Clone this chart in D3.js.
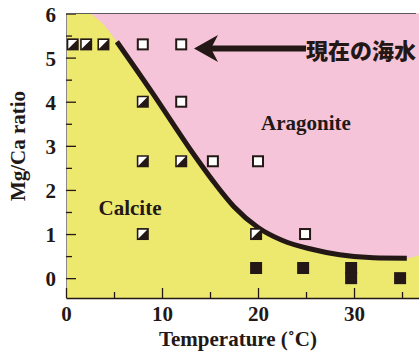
<!DOCTYPE html>
<html>
<head>
<meta charset="utf-8">
<script src="https://cdn.jsdelivr.net/npm/d3@7"></script>
<style>
  html, body { margin: 0; padding: 0; background: #ffffff; }
  svg { display: block; }
  .serif { font-family: "Liberation Serif", "Times New Roman", serif; font-weight: bold; fill: #231815; }
</style>
</head>
<body>
<svg id="chart" width="419" height="356"></svg>
<script>
// Phase stability of CaCO3 precipitates: Mg/Ca ratio of the solution vs. temperature

// Experimental runs, grouped by the polymorph that formed
const calciteAragoniteT = [0.7, 2.1, 3.9, 8, 8, 12, 8, 19.8];
const calciteAragoniteV = [5.3, 5.3, 5.3, 4, 2.65, 2.65, 1, 1];
const aragoniteT = [8, 12, 12, 15.3, 20, 24.9];
const aragoniteV = [5.3, 5.3, 4, 2.65, 2.65, 1];
const calciteT = [19.8, 24.7, 29.7, 29.7, 34.8];
const calciteV = [0.23, 0.23, 0.23, 0.0, 0.0];

// Calcite / aragonite boundary (drawn as the heavy curve)
const boundaryT = [5.3, 9, 13, 15.5, 17.5, 20, 22.5, 25.5, 28.5, 32, 35.5];
const boundaryV = [5.36, 4.2, 2.9, 2.15, 1.62, 1.15, 0.86, 0.66, 0.53, 0.46, 0.45];
// Field edge continued beyond the heavy curve at both ends
const upperEdgeT = [2.5, 4.0];
const upperEdgeV = [6.0, 5.73];
const lowerEdgeT = [36.8];
const lowerEdgeV = [0.52];

const xTicks = [0, 10, 20, 30];
const xMinorTicks = [5, 15, 25, 35];
const yTicks = [0, 1, 2, 3, 4, 5, 6];
const yMinorTicks = [0.5, 1.5, 2.5, 3.5, 4.5, 5.5];

const seawaterLabel = "現在の海水";
const seawaterV = 5.3;

const INK = "#231815";
const YELLOW = "#ede96f";
const PINK = "#f5c4d9";

const svg = d3.select("#chart");
const x = d3.scaleLinear().domain([0, 36.8]).range([66, 419.3]);
const y = d3.scaleLinear().domain([-0.45, 6]).range([298, 13.5]);

const [x0, x1] = x.range();
const [yb, yt] = y.range();

// calcite field (background)
svg.append("rect")
  .attr("x", x0).attr("y", yt)
  .attr("width", x1 - x0).attr("height", yb - yt)
  .attr("fill", YELLOW);

// aragonite field
const toPts = (ts, vs) => ts.map((t, i) => [t, vs[i]]);
const curvePts = toPts(boundaryT, boundaryV);
const edgePts = toPts(upperEdgeT, upperEdgeV)
  .concat(curvePts)
  .concat(toPts(lowerEdgeT, lowerEdgeV));

const edgeLine = d3.line().x(d => x(d[0])).y(d => y(d[1])).curve(d3.curveMonotoneX);
const fieldPath = edgeLine(edgePts) +
  `L${x1},${y(lowerEdgeV[0])}L${x1},${yt}L${x(upperEdgeT[0])},${yt}Z`;
svg.append("path").attr("d", fieldPath).attr("fill", PINK);

// axes
const gy = svg.append("g").attr("transform", `translate(${x0},0)`)
  .call(d3.axisLeft(y).tickValues(yTicks).tickSize(-10).tickSizeOuter(0).tickPadding(10).tickFormat(d3.format("d")));
gy.select(".domain").attr("stroke", "#8a8a8a").attr("stroke-width", 1);
gy.selectAll(".tick line").attr("stroke", INK).attr("stroke-width", 1.3);
gy.selectAll(".tick text").attr("class", "serif").style("font-size", "21px").attr("dy", "0.36em");

const gym = svg.append("g").attr("transform", `translate(${x0},0)`)
  .call(d3.axisLeft(y).tickValues(yMinorTicks).tickSize(-6).tickSizeOuter(0).tickFormat(""));
gym.select(".domain").remove();
gym.selectAll(".tick line").attr("stroke", INK).attr("stroke-width", 1.3);

const gx = svg.append("g").attr("transform", `translate(0,${yb})`)
  .call(d3.axisBottom(x).tickValues(xTicks).tickSize(-10).tickSizeOuter(0).tickPadding(8).tickFormat(d3.format("d")));
gx.select(".domain").attr("stroke", INK).attr("stroke-width", 1.5);
gx.selectAll(".tick line").attr("stroke", INK).attr("stroke-width", 1.3);
gx.selectAll(".tick text").attr("class", "serif").style("font-size", "21px");

const gxm = svg.append("g").attr("transform", `translate(0,${yb})`)
  .call(d3.axisBottom(x).tickValues(xMinorTicks).tickSize(-6).tickSizeOuter(0).tickFormat(""));
gxm.select(".domain").remove();
gxm.selectAll(".tick line").attr("stroke", INK).attr("stroke-width", 1.3);

// top frame
svg.append("line")
  .attr("x1", x0).attr("x2", 416).attr("y1", yt).attr("y2", yt)
  .attr("stroke", "#5a5a5a").attr("stroke-width", 1);

// boundary curve
svg.append("path")
  .attr("d", edgeLine(curvePts))
  .attr("fill", "none").attr("stroke", INK).attr("stroke-width", 5);

// markers
const S = 12;
const mixed = svg.append("g").selectAll("g").data(toPts(calciteAragoniteT, calciteAragoniteV)).join("g")
  .attr("transform", d => `translate(${x(d[0])},${y(d[1])})`);
mixed.append("rect").attr("x", -S / 2).attr("y", -S / 2).attr("width", S).attr("height", S).attr("fill", INK);
mixed.append("path")
  .attr("d", `M${-S / 2 + 1.6},${-S / 2 + 1.6}L${S / 2 - 1.6},${-S / 2 + 1.6}L${-S / 2 + 1.6},${S / 2 - 1.6}Z`)
  .attr("fill", "#ffffff");

svg.append("g").selectAll("rect").data(toPts(aragoniteT, aragoniteV)).join("rect")
  .attr("x", d => x(d[0]) - (S - 2) / 2).attr("y", d => y(d[1]) - (S - 2) / 2)
  .attr("width", S - 2).attr("height", S - 2)
  .attr("fill", "#ffffff").attr("stroke", INK).attr("stroke-width", 2);

svg.append("g").selectAll("rect").data(toPts(calciteT, calciteV)).join("rect")
  .attr("x", d => x(d[0]) - S / 2).attr("y", d => y(d[1]) - S / 2)
  .attr("width", S).attr("height", S)
  .attr("fill", INK);

// field labels
svg.append("text").attr("class", "serif").style("font-size", "21px")
  .attr("x", 306).attr("y", 130).attr("text-anchor", "middle").text("Aragonite");
svg.append("text").attr("class", "serif").style("font-size", "21px")
  .attr("x", 130).attr("y", 215).attr("text-anchor", "middle").text("Calcite");

// present-day seawater marker arrow
const ay = y(seawaterV) + 4;
svg.append("line")
  .attr("x1", 210).attr("x2", 306).attr("y1", ay).attr("y2", ay)
  .attr("stroke", INK).attr("stroke-width", 6);
svg.append("path")
  .attr("d", `M194,${ay}L218,${ay - 13.5}L211,${ay}L218,${ay + 13.5}Z`)
  .attr("fill", INK);
svg.append("text")
  .attr("x", 306).attr("y", ay + 1)
  .attr("dominant-baseline", "central")
  .style("font-family", '"Noto Sans CJK JP", sans-serif')
  .style("font-weight", "900").style("font-size", "22px")
  .attr("fill", INK)
  .text(seawaterLabel);

// axis titles
svg.append("text").attr("class", "serif").style("font-size", "21px")
  .attr("text-anchor", "middle")
  .attr("transform", "translate(25,146) rotate(-90)")
  .text("Mg/Ca ratio");
svg.append("text").attr("class", "serif").style("font-size", "21px")
  .attr("x", 238).attr("y", 346).attr("text-anchor", "middle")
  .text("Temperature (˚C)");
</script>
</body>
</html>
